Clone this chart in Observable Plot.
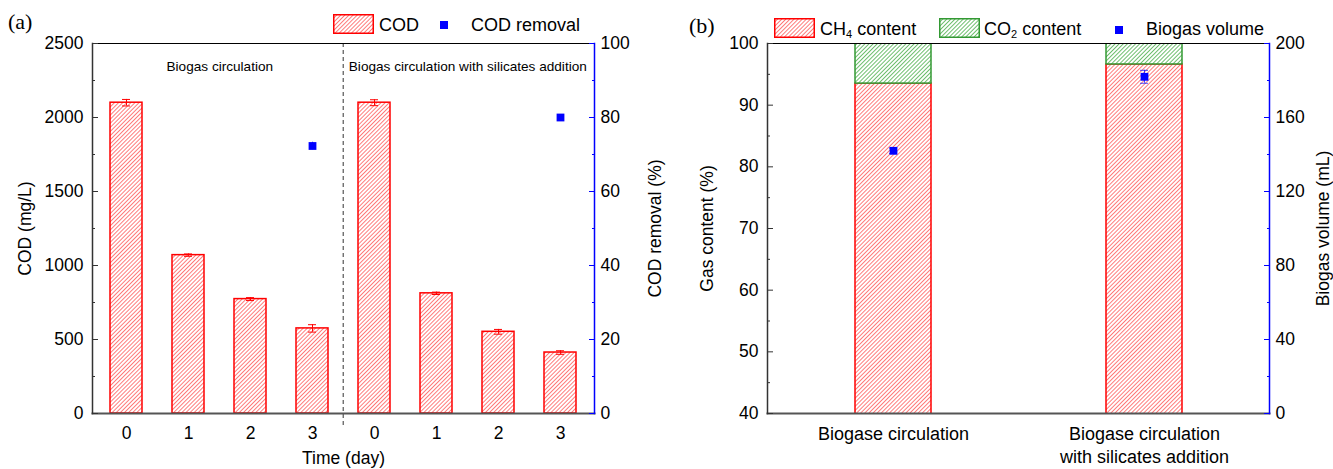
<!DOCTYPE html>
<html><head><meta charset="utf-8">
<script src="https://cdn.jsdelivr.net/npm/d3@7"></script>
<script src="https://cdn.jsdelivr.net/npm/@observablehq/plot@0.6"></script>
<style>
html,body{margin:0;padding:0;background:#fff;}
#wrap{position:relative;width:1333px;height:469px;overflow:hidden;font-family:"Liberation Sans",Arial,sans-serif;color:#000;}
.panel{position:absolute;top:0;width:666px;height:469px;}
.head{position:relative;height:36px;}
.tag{position:absolute;font-family:"Liberation Serif","Times New Roman",serif;font-size:22px;line-height:22px;}
.item{position:absolute;font-size:18px;line-height:20px;white-space:nowrap;}
.item sub{font-size:11px;vertical-align:-3px;line-height:0;}
.sw{position:absolute;}
.sq{position:absolute;width:8px;height:8px;background:#0000ff;}
.panel > svg{display:block;overflow:visible;}
#gdefs{position:absolute;width:0;height:0;overflow:hidden;}
</style></head>
<body>
<svg id="gdefs" width="0" height="0" aria-hidden="true">
  <defs>
    <pattern id="hatRedA" patternUnits="userSpaceOnUse" width="2.9" height="10" patternTransform="rotate(45)">
      <rect width="2.9" height="10" fill="#ffffff"/>
      <rect width="0.8" height="10" fill="#ff5c5c"/>
    </pattern>
    <pattern id="hatRed" patternUnits="userSpaceOnUse" width="2.9" height="10" patternTransform="rotate(45)">
      <rect width="2.9" height="10" fill="#ffffff"/>
      <rect width="0.8" height="10" fill="#ff5c5c"/>
    </pattern>
    <pattern id="hatGreen" patternUnits="userSpaceOnUse" width="2.9" height="10" patternTransform="rotate(45)">
      <rect width="2.9" height="10" fill="#ffffff"/>
      <rect width="0.8" height="10" fill="#4caf4c"/>
    </pattern>
  </defs>
</svg>
<div id="wrap">
<div class="panel" id="pa" style="left:0"><div class="head" id="ha"></div></div>
<div class="panel" id="pb" style="left:667px"><div class="head" id="hb"></div></div>
</div>
<script>
// ---------- Panel (a) data ----------
const groupsA = ["Biogas circulation", "Biogas circulation with silicates addition"];
const daysA = ["0", "1", "2", "3"];
const codCirc = [2100, 1070, 773, 575];
const codCircErr = [22, 8, 10, 25];
const codSil = [2100, 812, 552, 412];
const codSilErr = [20, 8, 16, 12];
const removalDays = ["3", "3"];
const removalVals = [72.3, 80.0];
const removalErr = [1.0, 0.6];
const yTicksA = [0, 500, 1000, 1500, 2000, 2500];
const yMinorA = [250, 750, 1250, 1750, 2250];
const rTicksA = [0, 20, 40, 60, 80, 100];
const rMinorA = [10, 30, 50, 70, 90];
const legendA = ["COD", "COD removal"];

// ---------- Panel (b) data ----------
const gasCats = ["Biogase circulation", "Biogase circulation\nwith silicates addition"];
const ch4 = [93.5, 96.6];
const co2 = [6.5, 3.4];
const volume = [142, 182];
const volumeErr = [1.5, 3.5];
const gasTicks = [40, 50, 60, 70, 80, 90, 100];
const gasMinor = [45, 55, 65, 75, 85, 95];
const volTicks = [0, 40, 80, 120, 160, 200];
const volMinor = [20, 60, 100, 140, 180];

const RED = "#ff0000", BLUE = "#0000ff", GREEN = "#339933";
const FONT = "'Liberation Sans', Arial, sans-serif";

function swatch(id, left, top, stroke, hatch) {
  return `<svg class="sw" style="left:${left}px;top:${top}px" width="41" height="20"><defs><pattern id="${id}" patternUnits="userSpaceOnUse" width="2.9" height="10" patternTransform="rotate(45)"><rect width="2.9" height="10" fill="#ffffff"/><rect width="0.8" height="10" fill="${hatch}"/></pattern></defs><rect x="0.75" y="0.75" width="39.5" height="18.5" fill="url(#${id})" stroke="${stroke}" stroke-width="1.5"/></svg>`;
}

// ---------- Panel (a) ----------
const keyOf = (g, d) => `${g}|${d}`;
const xKeysA = groupsA.flatMap((g, gi) => daysA.map(d => keyOf(gi, d)));
const codRows = [
  ...daysA.map((d, i) => ({key: keyOf(0, d), cod: codCirc[i], err: codCircErr[i]})),
  ...daysA.map((d, i) => ({key: keyOf(1, d), cod: codSil[i], err: codSilErr[i]}))
];
const remRows = groupsA.map((g, i) => ({key: keyOf(i, removalDays[i]), v: removalVals[i], err: removalErr[i]}));
const noteRows = groupsA.map((g, i) => ({key: keyOf(i, daysA[1]), text: g}));
const sepRows = [keyOf(1, daysA[0])];
const KA = 25;          // right axis (0–100 %) drawn on the 0–2500 scale
const HALF_STEP = 31.3; // half the spacing between adjacent bars, px

const plotA = Plot.plot({
  width: 666, height: 433, marginTop: 7, marginBottom: 56, marginLeft: 92, marginRight: 72,
  style: {fontFamily: FONT, fontSize: "17.5px", color: "#000", background: "transparent", overflow: "visible"},
  x: {domain: xKeysA, paddingInner: 0.49, paddingOuter: 0.245, label: null},
  y: {domain: [0, 2500], label: null},
  marks: [
    Plot.barY(codRows, {x: "key", y: "cod", fill: "url(#hatRedA)", stroke: RED, strokeWidth: 1.5, clip: true}),
    Plot.ruleX(codRows, {x: "key", y1: d => d.cod - d.err, y2: d => d.cod + d.err, stroke: RED, strokeWidth: 1}),
    Plot.tickY(codRows, {x: "key", y: d => d.cod + d.err, insetLeft: 12, insetRight: 12, stroke: RED}),
    Plot.tickY(codRows, {x: "key", y: d => d.cod - d.err, insetLeft: 12, insetRight: 12, stroke: RED}),
    Plot.ruleX(remRows, {x: "key", y1: d => (d.v - d.err) * KA, y2: d => (d.v + d.err) * KA, stroke: BLUE}),
    Plot.dot(remRows, {x: "key", y: d => d.v * KA, symbol: "square", r: 4.4, fill: BLUE, stroke: "none"}),
    Plot.text(noteRows, {x: "key", text: "text", dx: HALF_STEP, frameAnchor: "top", lineAnchor: "middle", dy: 23, fontSize: 13.6}),
    Plot.ruleX(sepRows, {x: d => d, dx: -HALF_STEP, stroke: "#333", strokeWidth: 1, strokeDasharray: "4,3", insetBottom: -12}),
    Plot.frame({anchor: "top", stroke: "#000", strokeWidth: 1}),
    Plot.frame({anchor: "bottom", stroke: "#555", strokeWidth: 2}),
    Plot.frame({anchor: "left", stroke: "#333", strokeWidth: 1.5}),
    Plot.frame({anchor: "right", stroke: BLUE, strokeWidth: 1.5}),
    Plot.axisY({ticks: yTicksA, tickFormat: d => String(d), tickSize: -6, tickPadding: 15, stroke: "#333", label: "COD (mg/L)", labelAnchor: "center", labelOffset: 74, labelArrow: false}),
    Plot.axisY({ticks: yMinorA, tickSize: -3, tickFormat: () => "", stroke: "#333", label: null}),
    Plot.axisY({anchor: "right", ticks: rTicksA.map(v => v * KA), tickFormat: v => String(v / KA), tickSize: -6, tickPadding: 12, stroke: BLUE, label: "COD removal (%)", labelAnchor: "center", labelOffset: 66, labelArrow: false}),
    Plot.axisY({anchor: "right", ticks: rMinorA.map(v => v * KA), tickFormat: () => "", tickSize: -3, stroke: BLUE, label: null}),
    Plot.axisX({tickSize: 0, tickPadding: 13, tickFormat: k => k.split("|")[1], label: "Time (day)", labelAnchor: "center", labelOffset: 50, labelArrow: false})
  ]
});
document.getElementById("pa").appendChild(plotA);

document.getElementById("ha").innerHTML =
  `<div class="tag" style="left:8px;top:11px">(a)</div>` +
  swatch("lgA", 333, 14, RED, "#ff5c5c") +
  `<div class="item" style="left:379px;top:15px">${legendA[0]}</div>` +
  `<div class="sq" style="left:440px;top:21px"></div>` +
  `<div class="item" style="left:471px;top:15px">${legendA[1]}</div>`;

// ---------- Panel (b) ----------
const gasRows = gasCats.map((c, i) => ({cat: c, ch4: ch4[i], co2: co2[i], vol: volume[i], err: volumeErr[i]}));
const toGas = v => 40 + v * 0.3; // right axis (0–200 mL) drawn on the 40–100 % scale

const plotB = Plot.plot({
  width: 666, height: 433, marginTop: 7, marginBottom: 56, marginLeft: 100, marginRight: 64,
  style: {fontFamily: FONT, fontSize: "17.5px", color: "#000", background: "transparent", overflow: "visible"},
  x: {domain: gasCats, paddingInner: 0.698, paddingOuter: 0.349, label: null},
  y: {domain: [40, 100], label: null},
  marks: [
    Plot.barY(gasRows, {x: "cat", y: "ch4", fill: "url(#hatRed)", stroke: RED, strokeWidth: 1.5, clip: true}),
    Plot.barY(gasRows, {x: "cat", y1: "ch4", y2: d => d.ch4 + d.co2, fill: "url(#hatGreen)", stroke: GREEN, strokeWidth: 1.5, clip: true}),
    Plot.ruleX(gasRows, {x: "cat", y1: d => toGas(d.vol - d.err), y2: d => toGas(d.vol + d.err), stroke: BLUE, strokeOpacity: 0.7}),
    Plot.tickY(gasRows, {x: "cat", y: d => toGas(d.vol + d.err), insetLeft: 34, insetRight: 34, stroke: BLUE, strokeOpacity: 0.7}),
    Plot.tickY(gasRows, {x: "cat", y: d => toGas(d.vol - d.err), insetLeft: 34, insetRight: 34, stroke: BLUE, strokeOpacity: 0.7}),
    Plot.dot(gasRows, {x: "cat", y: d => toGas(d.vol), symbol: "square", r: 4.4, fill: BLUE, stroke: "none"}),
    Plot.frame({anchor: "top", stroke: "#000", strokeWidth: 1}),
    Plot.frame({anchor: "bottom", stroke: "#555", strokeWidth: 2}),
    Plot.frame({anchor: "left", stroke: "#333", strokeWidth: 1.5}),
    Plot.frame({anchor: "right", stroke: BLUE, strokeWidth: 1.5}),
    Plot.axisY({ticks: gasTicks, tickFormat: d => String(d), tickSize: -6, tickPadding: 15, stroke: "#333", label: "Gas content (%)", labelAnchor: "center", labelOffset: 67, labelArrow: false}),
    Plot.axisY({ticks: gasMinor, tickSize: -3, tickFormat: () => "", stroke: "#333", label: null}),
    Plot.axisY({anchor: "right", ticks: volTicks.map(toGas), tickFormat: v => String(Math.round((v - 40) / 0.3)), tickSize: -6, tickPadding: 12, stroke: BLUE, label: "Biogas volume (mL)", labelAnchor: "center", labelOffset: 59, labelArrow: false}),
    Plot.axisY({anchor: "right", ticks: volMinor.map(toGas), tickFormat: () => "", tickSize: -3, stroke: BLUE, label: null}),
    Plot.axisX({tickSize: 0, tickPadding: 11, lineHeight: 1.25, fontSize: 18, label: null})
  ]
});
document.getElementById("pb").appendChild(plotB);

document.getElementById("hb").innerHTML =
  `<div class="tag" style="left:22px;top:15px">(b)</div>` +
  swatch("lgBR", 107, 18, RED, "#ff5c5c") +
  `<div class="item" style="left:153px;top:19px">CH<sub>4</sub> content</div>` +
  swatch("lgBG", 272, 18, GREEN, "#4caf4c") +
  `<div class="item" style="left:317px;top:19px">CO<sub>2</sub> content</div>` +
  `<div class="sq" style="left:448px;top:26px"></div>` +
  `<div class="item" style="left:479px;top:19px">Biogas volume</div>`;
</script>
</body></html>
